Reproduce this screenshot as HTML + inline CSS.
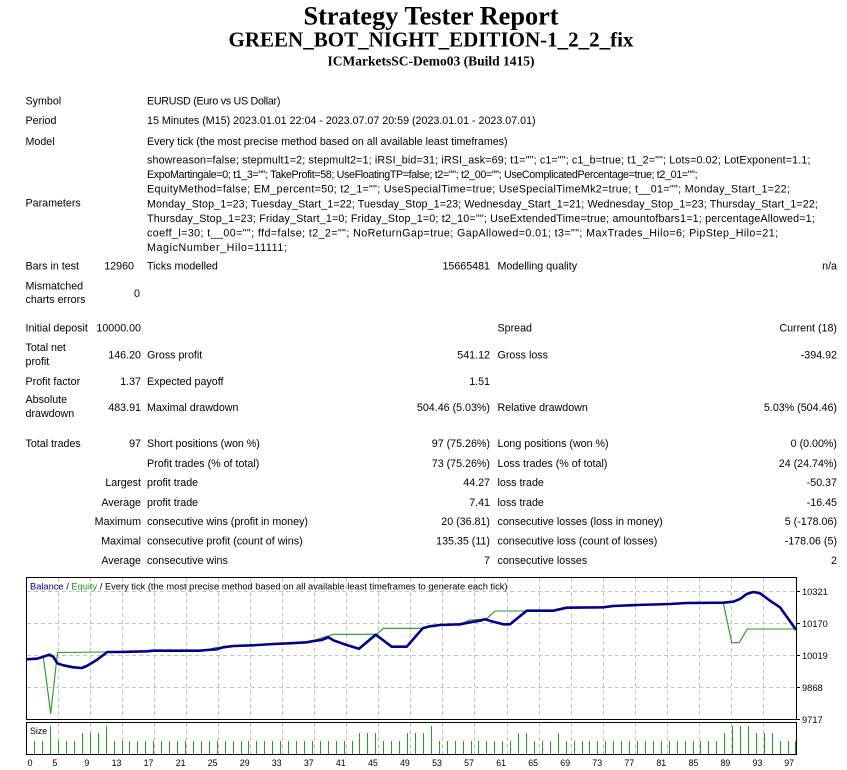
<!DOCTYPE html>
<html>
<head>
<meta charset="utf-8">
<style>
html,body{margin:0;padding:0;background:#fff;}
svg{display:block;}
.t{font-family:"Liberation Sans",Arial,sans-serif;font-size:10.7px;fill:#000;}
.r{text-anchor:end;}
.c{font-family:"Liberation Sans",Arial,sans-serif;fill:#000;}
</style>
</head>
<body>
<svg width="847" height="770" viewBox="0 0 847 770" xmlns="http://www.w3.org/2000/svg">
<rect width="847" height="770" fill="#fff"/>

<!-- Header -->
<g font-family="'Liberation Serif',serif" font-weight="bold" text-anchor="middle" fill="#000">
<text x="431" y="24.5" font-size="26.3">Strategy Tester Report</text>
<text x="431" y="46.7" font-size="21">GREEN_BOT_NIGHT_EDITION-1_2_2_fix</text>
<text x="431" y="65.7" font-size="13.5">ICMarketsSC-Demo03 (Build 1415)</text>
</g>

<!-- Info rows -->
<g class="t">
<text x="25.5" y="104.5">Symbol</text>
<text x="147" y="104.5" style="letter-spacing:-0.27px">EURUSD (Euro vs US Dollar)</text>
<text x="25.5" y="124.2">Period</text>
<text x="147" y="124.2">15 Minutes (M15) 2023.01.01 22:04 - 2023.07.07 20:59 (2023.01.01 - 2023.07.01)</text>
<text x="25.5" y="145">Model</text>
<text x="147" y="145">Every tick (the most precise method based on all available least timeframes)</text>

<text x="25.5" y="206.5">Parameters</text>
<text x="147" y="163.5" style="letter-spacing:0.15px">showreason=false; stepmult1=2; stepmult2=1; iRSI_bid=31; iRSI_ask=69; t1=&quot;&quot;; c1=&quot;&quot;; c1_b=true; t1_2=&quot;&quot;; Lots=0.02; LotExponent=1.1;</text>
<text x="147" y="178.1" style="letter-spacing:-0.35px">ExpoMartingale=0; t1_3=&quot;&quot;; TakeProfit=58; UseFloatingTP=false; t2=&quot;&quot;; t2_00=&quot;&quot;; UseComplicatedPercentage=true; t2_01=&quot;&quot;;</text>
<text x="147" y="192.7" style="letter-spacing:0.33px">EquityMethod=false; EM_percent=50; t2_1=&quot;&quot;; UseSpecialTime=true; UseSpecialTimeMk2=true; t__01=&quot;&quot;; Monday_Start_1=22;</text>
<text x="147" y="207.3" style="letter-spacing:0.11px">Monday_Stop_1=23; Tuesday_Start_1=22; Tuesday_Stop_1=23; Wednesday_Start_1=21; Wednesday_Stop_1=23; Thursday_Start_1=22;</text>
<text x="147" y="221.9" style="letter-spacing:0.19px">Thursday_Stop_1=23; Friday_Start_1=0; Friday_Stop_1=0; t2_10=&quot;&quot;; UseExtendedTime=true; amountofbars1=1; percentageAllowed=1;</text>
<text x="147" y="236.5" style="letter-spacing:0.41px">coeff_l=30; t__00=&quot;&quot;; ffd=false; t2_2=&quot;&quot;; NoReturnGap=true; GapAllowed=0.01; t3=&quot;&quot;; MaxTrades_Hilo=6; PipStep_Hilo=21;</text>
<text x="147" y="251.1" style="letter-spacing:0.6px">MagicNumber_Hilo=11111;</text>

<text x="25.5" y="269.5">Bars in test</text>
<text x="134" y="269.5" class="r">12960</text>
<text x="147" y="269.5">Ticks modelled</text>
<text x="490" y="269.5" class="r">15665481</text>
<text x="497.5" y="269.5">Modelling quality</text>
<text x="837" y="269.5" class="r">n/a</text>

<text x="25.5" y="289.5">Mismatched</text>
<text x="25.5" y="303">charts errors</text>
<text x="137" y="297" text-anchor="middle">0</text>

<text x="25.5" y="331.5">Initial deposit</text>
<text x="141" y="331.5" class="r">10000.00</text>
<text x="497.5" y="331.5">Spread</text>
<text x="837" y="331.5" class="r">Current (18)</text>

<text x="25.5" y="351">Total net</text>
<text x="25.5" y="365">profit</text>
<text x="141" y="358.5" class="r">146.20</text>
<text x="147" y="358.5">Gross profit</text>
<text x="490" y="358.5" class="r">541.12</text>
<text x="497.5" y="358.5">Gross loss</text>
<text x="837" y="358.5" class="r">-394.92</text>

<text x="25.5" y="385.2">Profit factor</text>
<text x="141" y="385.2" class="r">1.37</text>
<text x="147" y="385.2">Expected payoff</text>
<text x="490" y="385.2" class="r">1.51</text>

<text x="25.5" y="402.8">Absolute</text>
<text x="25.5" y="416.8">drawdown</text>
<text x="141" y="410.8" class="r">483.91</text>
<text x="147" y="410.8">Maximal drawdown</text>
<text x="490" y="410.8" class="r">504.46 (5.03%)</text>
<text x="497.5" y="410.8">Relative drawdown</text>
<text x="837" y="410.8" class="r">5.03% (504.46)</text>

<text x="25.5" y="447">Total trades</text>
<text x="141" y="447" class="r">97</text>
<text x="147" y="447">Short positions (won %)</text>
<text x="490" y="447" class="r">97 (75.26%)</text>
<text x="497.5" y="447">Long positions (won %)</text>
<text x="837" y="447" class="r">0 (0.00%)</text>

<text x="147" y="466.8">Profit trades (% of total)</text>
<text x="490" y="466.8" class="r">73 (75.26%)</text>
<text x="497.5" y="466.8">Loss trades (% of total)</text>
<text x="837" y="466.8" class="r">24 (24.74%)</text>

<text x="141" y="486.2" class="r">Largest</text>
<text x="147" y="486.2">profit trade</text>
<text x="490" y="486.2" class="r">44.27</text>
<text x="497.5" y="486.2">loss trade</text>
<text x="837" y="486.2" class="r">-50.37</text>

<text x="141" y="505.8" class="r">Average</text>
<text x="147" y="505.8">profit trade</text>
<text x="490" y="505.8" class="r">7.41</text>
<text x="497.5" y="505.8">loss trade</text>
<text x="837" y="505.8" class="r">-16.45</text>

<text x="141" y="525.2" class="r">Maximum</text>
<text x="147" y="525.2">consecutive wins (profit in money)</text>
<text x="490" y="525.2" class="r">20 (36.81)</text>
<text x="497.5" y="525.2">consecutive losses (loss in money)</text>
<text x="837" y="525.2" class="r">5 (-178.06)</text>

<text x="141" y="544.5" class="r">Maximal</text>
<text x="147" y="544.5">consecutive profit (count of wins)</text>
<text x="490" y="544.5" class="r">135.35 (11)</text>
<text x="497.5" y="544.5">consecutive loss (count of losses)</text>
<text x="837" y="544.5" class="r">-178.06 (5)</text>

<text x="141" y="564.2" class="r">Average</text>
<text x="147" y="564.2">consecutive wins</text>
<text x="490" y="564.2" class="r">7</text>
<text x="497.5" y="564.2">consecutive losses</text>
<text x="837" y="564.2" class="r">2</text>
</g>

<!-- Chart -->
<defs>
<clipPath id="clipMain"><rect x="26" y="577" width="771" height="143"/></clipPath>
</defs>

<!-- grid -->
<g stroke="#c4c4c4" stroke-width="1" stroke-dasharray="4,3" fill="none">
<path d="M27 591.5H796M27 623.5H796M27 655.5H796M27 687.5H796"/>
<path d="M58.5 578V719M90.5 578V719M122.5 578V719M154.5 578V719M186.5 578V719M218.5 578V719M250.5 578V719M282.5 578V719M314.5 578V719M346.5 578V719M378.5 578V719M410.5 578V719M442.5 578V719M474.5 578V719M507.5 578V719M539.5 578V719M571.5 578V719M603.5 578V719M635.5 578V719M667.5 578V719M699.5 578V719M731.5 578V719M763.5 578V719"/>
<path d="M58.5 723V754M90.5 723V754M122.5 723V754M154.5 723V754M186.5 723V754M218.5 723V754M250.5 723V754M282.5 723V754M314.5 723V754M346.5 723V754M378.5 723V754M410.5 723V754M442.5 723V754M474.5 723V754M507.5 723V754M539.5 723V754M571.5 723V754M603.5 723V754M635.5 723V754M667.5 723V754M699.5 723V754M731.5 723V754M763.5 723V754"/>
</g>

<!-- equity -->
<g clip-path="url(#clipMain)">
<polyline fill="none" stroke="#1f9a1f" stroke-width="1.1" stroke-linejoin="round" points="26,659.3 36.7,658.7 43.3,656.7 50.7,713.5 57.5,652.5 107.3,652 120,652 146.7,651.3 153.3,650.7 200,650.7 206.7,650 216.7,647.3 223.3,647.3 233.3,646 253.3,645.3 273.3,644 289.3,643.3 306.7,642.3 313.3,640.5 333.3,634.3 376.7,634.3 383.3,628.3 422.7,628.3 430,626.3 440,625 460,624.3 470,620 486.7,618.8 495,611 526.7,611 546.7,610.7 553.3,610.7 566.7,607.7 603.3,607.3 613.3,606 636.7,605 670,604 686.7,603 723.3,602.7 731.7,642.7 739.3,642.7 747.3,629 797,629"/>
<!-- balance -->
<polyline fill="none" stroke="#00008f" stroke-width="2.6" stroke-linejoin="round" stroke-linecap="round" points="26,659.3 36.7,658.7 43.3,656.7 49.3,654.7 53.3,656.7 57.3,663.3 63.3,665.3 73.3,667.3 81.7,668 86.7,666 96.7,660 107.3,652 120,652 146.7,651.3 153.3,650.7 200,650.7 206.7,650 216.7,649.3 223.3,647.3 233.3,646 253.3,645.3 273.3,644 289.3,643.3 306.7,642.3 313.3,641 321.7,640 328.3,637.3 333.3,640.3 346.7,645 359,648.7 375.7,634.7 391.7,646.7 406.7,646.7 422.7,628.3 430,626.3 440,625 460,624.3 470,622.3 480,620.7 485,619.3 493.3,621.7 503.3,624.3 510,624.3 526.7,610.7 546.7,610.7 553.3,610.7 566.7,607.7 603.3,607.3 613.3,606 636.7,605 670,604 686.7,603 723.3,602.7 733.3,601.7 740,599 746.7,594 753.3,592 760,593.3 770,600.7 780,607.3 795.5,629"/>
</g>

<!-- size bars -->
<g fill="#22a022">
<rect x="34" y="741" width="1" height="13"/>
<rect x="42" y="741" width="1" height="13"/>
<rect x="50" y="726" width="1" height="28"/>
<rect x="58" y="741" width="1" height="13"/>
<rect x="66" y="741" width="1" height="13"/>
<rect x="74" y="741" width="1" height="13"/>
<rect x="82" y="733" width="1" height="21"/>
<rect x="90" y="733" width="1" height="21"/>
<rect x="98" y="733" width="1" height="21"/>
<rect x="106" y="726" width="1" height="28"/>
<rect x="114" y="741" width="1" height="13"/>
<rect x="122" y="741" width="1" height="13"/>
<rect x="129" y="741" width="1" height="13"/>
<rect x="137" y="741" width="1" height="13"/>
<rect x="145" y="741" width="1" height="13"/>
<rect x="153" y="741" width="1" height="13"/>
<rect x="161" y="741" width="1" height="13"/>
<rect x="169" y="741" width="1" height="13"/>
<rect x="177" y="741" width="1" height="13"/>
<rect x="185" y="741" width="1" height="13"/>
<rect x="193" y="741" width="1" height="13"/>
<rect x="201" y="741" width="1" height="13"/>
<rect x="209" y="741" width="1" height="13"/>
<rect x="217" y="741" width="1" height="13"/>
<rect x="225" y="741" width="1" height="13"/>
<rect x="233" y="741" width="1" height="13"/>
<rect x="241" y="741" width="1" height="13"/>
<rect x="248" y="741" width="1" height="13"/>
<rect x="256" y="741" width="1" height="13"/>
<rect x="264" y="741" width="1" height="13"/>
<rect x="272" y="741" width="1" height="13"/>
<rect x="280" y="741" width="1" height="13"/>
<rect x="288" y="741" width="1" height="13"/>
<rect x="296" y="741" width="1" height="13"/>
<rect x="304" y="741" width="1" height="13"/>
<rect x="312" y="741" width="1" height="13"/>
<rect x="320" y="741" width="1" height="13"/>
<rect x="328" y="741" width="1" height="13"/>
<rect x="336" y="741" width="1" height="13"/>
<rect x="344" y="741" width="1" height="13"/>
<rect x="352" y="741" width="1" height="13"/>
<rect x="359" y="733" width="1" height="21"/>
<rect x="367" y="733" width="1" height="21"/>
<rect x="375" y="733" width="1" height="21"/>
<rect x="383" y="741" width="1" height="13"/>
<rect x="391" y="741" width="1" height="13"/>
<rect x="399" y="741" width="1" height="13"/>
<rect x="407" y="733" width="1" height="21"/>
<rect x="415" y="733" width="1" height="21"/>
<rect x="423" y="733" width="1" height="21"/>
<rect x="431" y="726" width="1" height="28"/>
<rect x="439" y="741" width="1" height="13"/>
<rect x="447" y="741" width="1" height="13"/>
<rect x="455" y="741" width="1" height="13"/>
<rect x="463" y="741" width="1" height="13"/>
<rect x="471" y="741" width="1" height="13"/>
<rect x="478" y="741" width="1" height="13"/>
<rect x="486" y="741" width="1" height="13"/>
<rect x="494" y="741" width="1" height="13"/>
<rect x="502" y="741" width="1" height="13"/>
<rect x="510" y="741" width="1" height="13"/>
<rect x="518" y="733" width="1" height="21"/>
<rect x="526" y="733" width="1" height="21"/>
<rect x="534" y="741" width="1" height="13"/>
<rect x="542" y="741" width="1" height="13"/>
<rect x="550" y="741" width="1" height="13"/>
<rect x="558" y="733" width="1" height="21"/>
<rect x="566" y="741" width="1" height="13"/>
<rect x="574" y="741" width="1" height="13"/>
<rect x="582" y="741" width="1" height="13"/>
<rect x="589" y="741" width="1" height="13"/>
<rect x="597" y="741" width="1" height="13"/>
<rect x="605" y="741" width="1" height="13"/>
<rect x="613" y="741" width="1" height="13"/>
<rect x="621" y="741" width="1" height="13"/>
<rect x="629" y="741" width="1" height="13"/>
<rect x="637" y="741" width="1" height="13"/>
<rect x="645" y="741" width="1" height="13"/>
<rect x="653" y="741" width="1" height="13"/>
<rect x="661" y="741" width="1" height="13"/>
<rect x="669" y="741" width="1" height="13"/>
<rect x="677" y="741" width="1" height="13"/>
<rect x="685" y="741" width="1" height="13"/>
<rect x="693" y="741" width="1" height="13"/>
<rect x="700" y="741" width="1" height="13"/>
<rect x="708" y="741" width="1" height="13"/>
<rect x="716" y="741" width="1" height="13"/>
<rect x="724" y="733" width="1" height="21"/>
<rect x="732" y="726" width="1" height="28"/>
<rect x="740" y="726" width="1" height="28"/>
<rect x="748" y="726" width="1" height="28"/>
<rect x="756" y="733" width="1" height="21"/>
<rect x="764" y="733" width="1" height="21"/>
<rect x="772" y="733" width="1" height="21"/>
<rect x="780" y="741" width="1" height="13"/>
<rect x="788" y="741" width="1" height="13"/>
<rect x="795" y="741" width="1" height="13"/>
</g>

<!-- frames -->
<g fill="none" stroke="#000" stroke-width="1">
<rect x="26.5" y="577.5" width="770" height="142"/>
<rect x="26.5" y="722.5" width="770" height="32"/>
<path d="M797 591.5H800M797 623.5H800M797 655.5H800M797 687.5H800M797 719.5H800"/>
</g>

<!-- chart title -->
<text class="c" x="30" y="589.5" font-size="9.3"><tspan fill="#00008f">Balance</tspan> / <tspan fill="#1f9a1f">Equity</tspan> / Every tick (the most precise method based on all available least timeframes to generate each tick)</text>

<!-- size label -->
<text class="c" x="30" y="734" font-size="8.8">Size</text>

<!-- y axis labels -->
<g class="c" font-size="9.3">
<text x="802" y="594.8">10321</text>
<text x="802" y="626.8">10170</text>
<text x="802" y="658.8">10019</text>
<text x="802" y="690.8">9868</text>
<text x="802" y="722.8">9717</text>
</g>

<!-- x axis labels -->
<g class="c" font-size="8.8" text-anchor="end">
<text x="32.5" y="766">0</text>
<text x="57.3" y="766">5</text>
<text x="89.3" y="766">9</text>
<text x="121.4" y="766">13</text>
<text x="153.4" y="766">17</text>
<text x="185.5" y="766">21</text>
<text x="217.5" y="766">25</text>
<text x="249.6" y="766">29</text>
<text x="281.6" y="766">33</text>
<text x="313.7" y="766">37</text>
<text x="345.7" y="766">41</text>
<text x="377.8" y="766">45</text>
<text x="409.8" y="766">49</text>
<text x="441.9" y="766">53</text>
<text x="473.9" y="766">57</text>
<text x="506" y="766">61</text>
<text x="538" y="766">65</text>
<text x="570.1" y="766">69</text>
<text x="602.1" y="766">73</text>
<text x="634.2" y="766">77</text>
<text x="666.2" y="766">81</text>
<text x="698.3" y="766">85</text>
<text x="730.3" y="766">89</text>
<text x="762.4" y="766">93</text>
<text x="794" y="766">97</text>
</g>
</svg>
</body>
</html>
